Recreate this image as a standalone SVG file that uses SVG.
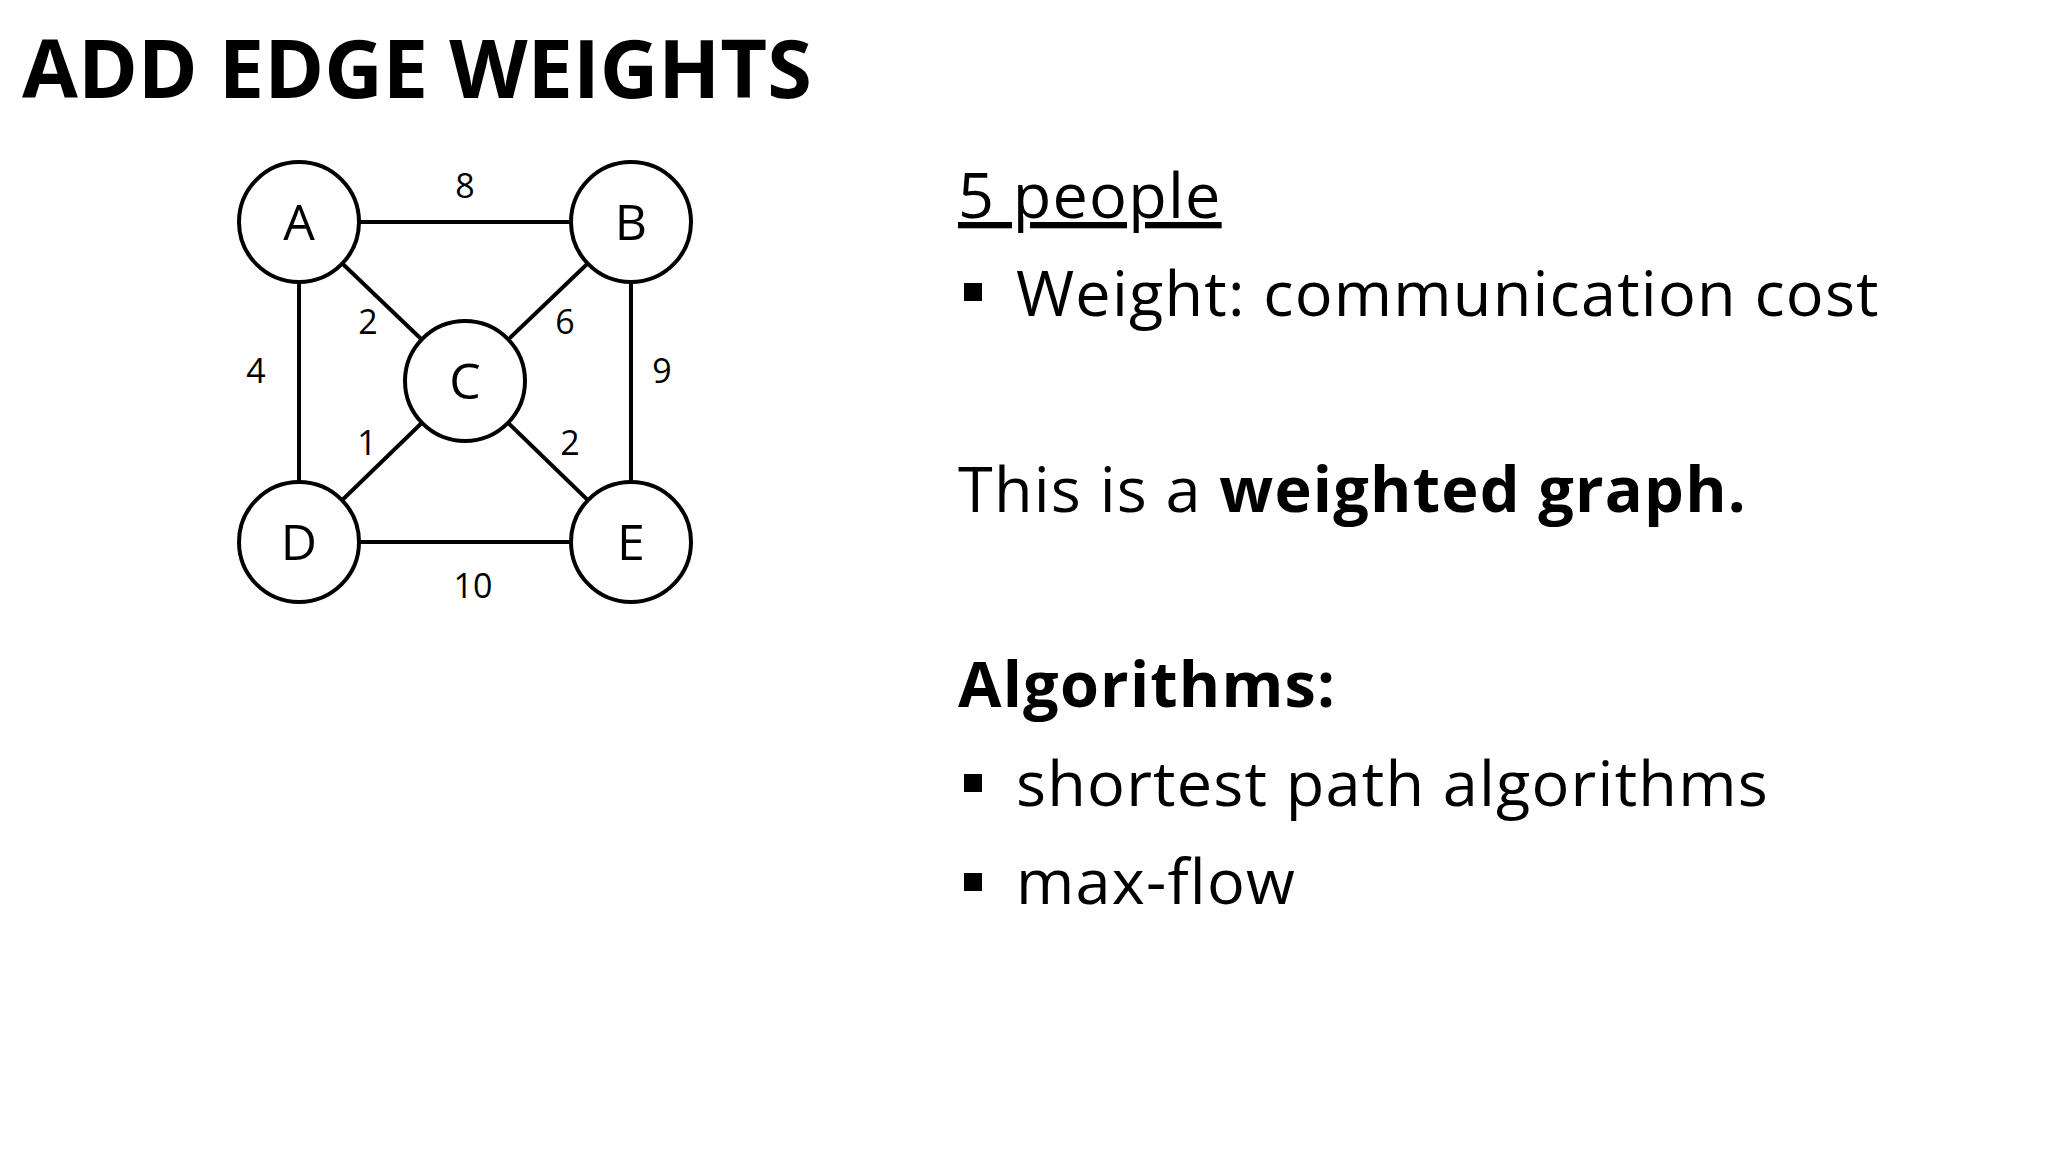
<svg xmlns="http://www.w3.org/2000/svg" width="2048" height="1152" viewBox="0 0 2048 1152">
<style>
.t{font-family:"Open Sans","DejaVu Sans",sans-serif;fill:#000}
.n circle{fill:#fff;stroke:#000;stroke-width:4}
.n text{font-family:"Open Sans",sans-serif;font-size:50px;text-anchor:middle}
.e line{stroke:#000;stroke-width:4}
.w{font-family:"Open Sans",sans-serif;font-size:34px;text-anchor:middle}
</style>
<rect width="2048" height="1152" fill="#fff"/>
<text class="t" x="22" y="98" font-size="81" font-weight="bold">ADD EDGE WEIGHTS</text>
<g id="edges" class="e">
<line x1="299" y1="222" x2="631" y2="222"/>
<line x1="299" y1="222" x2="299" y2="542"/>
<line x1="631" y1="222" x2="631" y2="542"/>
<line x1="299" y1="542" x2="631" y2="542"/>
<line x1="299" y1="222" x2="465" y2="381"/>
<line x1="631" y1="222" x2="465" y2="381"/>
<line x1="299" y1="542" x2="465" y2="381"/>
<line x1="631" y1="542" x2="465" y2="381"/>
</g>
<g id="weights">
<text class="w" x="465" y="198">8</text>
<text class="w" x="368" y="334">2</text>
<text class="w" x="565" y="334">6</text>
<text class="w" x="256" y="383">4</text>
<text class="w" x="662" y="383">9</text>
<text class="w" x="367" y="455">1</text>
<text class="w" x="570" y="455">2</text>
<text class="w" x="473" y="598">10</text>
</g>
<g id="A" class="n"><circle cx="299" cy="222" r="60"/><text x="299" y="240">A</text></g>
<g id="B" class="n"><circle cx="631" cy="222" r="60"/><text x="631" y="240">B</text></g>
<g id="C" class="n"><circle cx="465" cy="381" r="60"/><text x="465" y="399">C</text></g>
<g id="D" class="n"><circle cx="299" cy="542" r="60"/><text x="299" y="560">D</text></g>
<g id="E" class="n"><circle cx="631" cy="542" r="60"/><text x="631" y="560">E</text></g>
<g font-size="63" letter-spacing="1.2">
<text class="t" x="958" y="218" text-decoration="underline">5 people</text>
<rect x="964" y="283" width="18" height="18"/>
<text class="t" x="1016" y="316">Weight: communication cost</text>
<text class="t" x="958" y="512">This is a <tspan font-weight="bold">weighted graph.</tspan></text>
<text class="t" x="958" y="707" font-weight="bold">Algorithms:</text>
<rect x="964" y="774" width="18" height="18"/>
<text class="t" x="1016" y="806">shortest path algorithms</text>
<rect x="964" y="873" width="18" height="18"/>
<text class="t" x="1016" y="904">max-flow</text>
</g>
</svg>
